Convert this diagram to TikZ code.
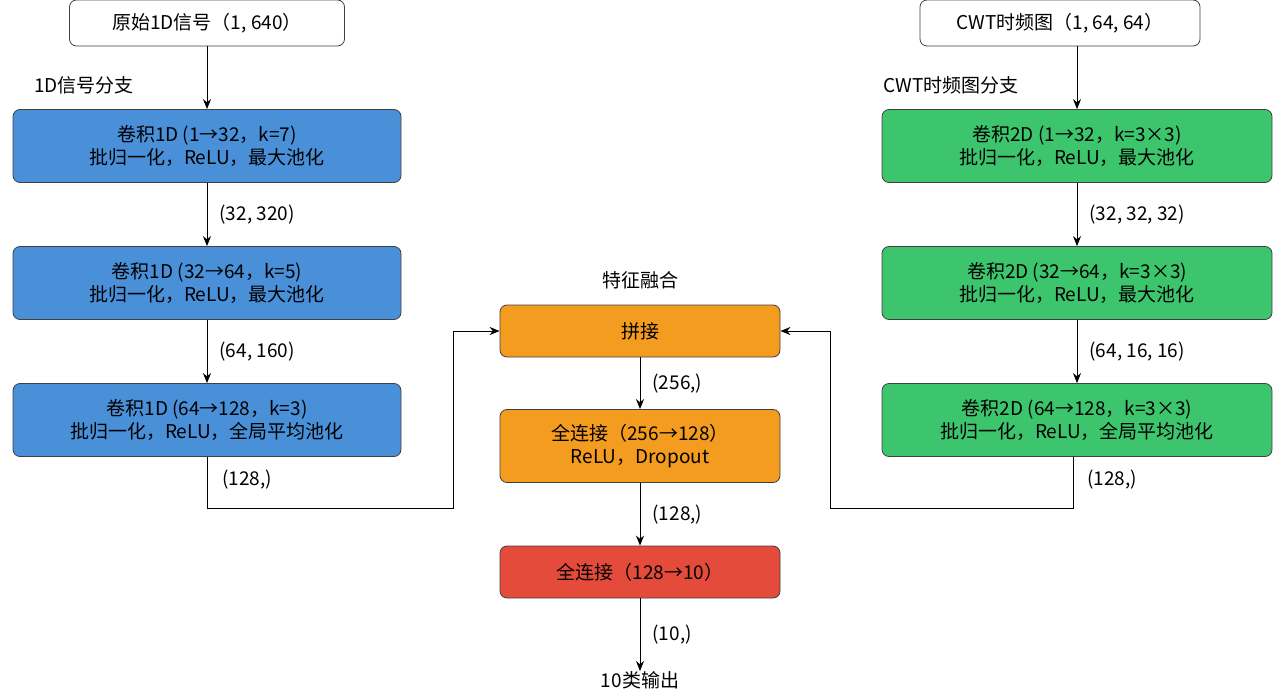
\documentclass[tikz,border=0pt]{standalone}
\usepackage{fontspec}
\setmainfont{Noto Sans CJK SC}
\usetikzlibrary{arrows.meta}
\definecolor{cblue}{HTML}{4A90D9}
\definecolor{cgreen}{HTML}{3CC56C}
\definecolor{corange}{HTML}{F39C1F}
\definecolor{cred}{HTML}{E54B3A}
\begin{document}
\begin{tikzpicture}[x=1pt,y=-1pt,
  font=\fontsize{19}{23}\selectfont,
  box/.style={draw=black!75,line width=0.8pt,rounded corners=7pt,align=center,inner sep=0pt},
  arr/.style={-{Stealth[length=10pt,width=8pt]},line width=1pt},
  lab/.style={anchor=west,inner sep=0pt}]
\useasboundingbox (0,0) rectangle (1280,698);
\node[box,fill=white,minimum width=275,minimum height=46] (inL) at (207,23) {原始1D信号（1, 640）};
\node[box,fill=white,minimum width=280,minimum height=46] (inR) at (1060,23) {CWT时频图（1, 64, 64）};
\node[inner sep=0pt] (tL) at (84,85) {1D信号分支};
\node[inner sep=0pt] (tR) at (951,85) {CWT时频图分支};
\foreach \n/\y/\t in {b1/146/{卷积1D (1→32，k=7)\\批归一化，ReLU，最大池化},
  b2/283/{卷积1D (32→64，k=5)\\批归一化，ReLU，最大池化},
  b3/420/{卷积1D (64→128，k=3)\\批归一化，ReLU，全局平均池化}}
  \node[box,fill=cblue,minimum width=388,minimum height=73] (\n) at (207,\y) {\t};
\foreach \n/\y/\t in {g1/146/{卷积2D (1→32，k=3×3)\\批归一化，ReLU，最大池化},
  g2/283/{卷积2D (32→64，k=3×3)\\批归一化，ReLU，最大池化},
  g3/420/{卷积2D (64→128，k=3×3)\\批归一化，ReLU，全局平均池化}}
  \node[box,fill=cgreen,minimum width=390,minimum height=73] (\n) at (1077,\y) {\t};
\node[inner sep=0pt] (tC) at (640,280) {特征融合};
\node[box,fill=corange,minimum width=280,minimum height=52] (cat) at (640,331) {拼接};
\node[box,fill=corange,minimum width=280,minimum height=73] (fc1) at (640,446) {全连接（256→128）\\ReLU，Dropout};
\node[box,fill=cred,minimum width=280,minimum height=52] (fc2) at (640,572) {全连接（128→10）};
\node[inner sep=0pt] (out) at (640,680) {10类输出};
\draw[arr] (inL) -- (b1);
\draw[arr] (b1) -- node[lab,right=12pt]{(32, 320)} (b2);
\draw[arr] (b2) -- node[lab,right=12pt]{(64, 160)} (b3);
\draw[arr] (inR.south -| g1) -- (g1);
\draw[arr] (g1) -- node[lab,right=12pt]{(32, 32, 32)} (g2);
\draw[arr] (g2) -- node[lab,right=12pt]{(64, 16, 16)} (g3);
\coordinate (jl) at (207,508);
\coordinate (jr) at (1073,508);
\draw[arr] (b3.south) -- (jl) -- (453,508) -- (453,331) -- (cat.west);
\node[lab] at (222,480) {(128,)};
\draw[arr] (g3.south -| jr) -- (jr) -- (830,508) -- (830,331) -- (cat.east);
\node[lab] at (1087,480) {(128,)};
\draw[arr] (cat) -- node[lab,right=12pt]{(256,)} (fc1);
\draw[arr] (fc1) -- node[lab,right=12pt]{(128,)} (fc2);
\draw[arr] (fc2) -- node[lab,right=12pt]{(10,)} (out);
\end{tikzpicture}
\end{document}
